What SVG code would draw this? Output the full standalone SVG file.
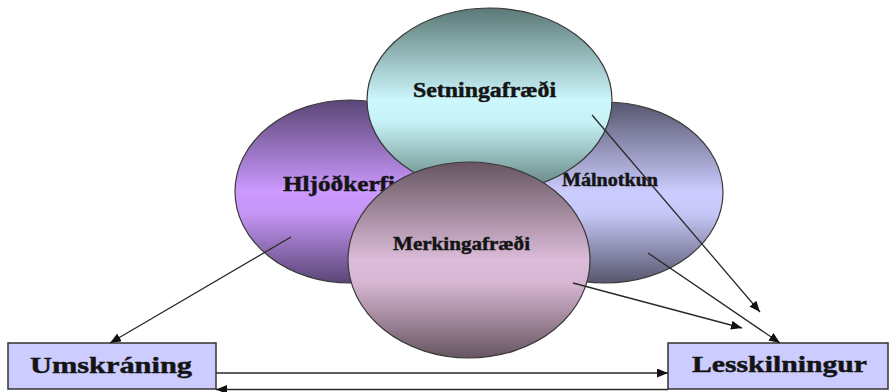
<svg xmlns="http://www.w3.org/2000/svg" width="889" height="392" viewBox="0 0 889 392">
<style>
.ell{stroke:#3a3a3a;stroke-width:1.2}
.lbl{font-family:"Liberation Serif","Times New Roman",serif;font-weight:bold;fill:#141414;stroke:#141414;stroke-width:0.45}
.box{fill:#ccccff;stroke:#333;stroke-width:1.5}
.conn{stroke:#2a2a2a;stroke-width:1.3;fill:none;marker-end:url(#ah)}
</style>
<defs>
<marker id="ah" markerUnits="userSpaceOnUse" markerWidth="12" markerHeight="9" refX="11" refY="4.5" orient="auto">
<path d="M0,0 L11,4.5 L0,9 z" fill="#111"/>
</marker>
<linearGradient id="gS" x1="0" y1="0" x2="0" y2="1">
<stop offset="0" stop-color="#5a7876"/><stop offset="0.5" stop-color="#ccf7fc"/><stop offset="0.62" stop-color="#c6f2f6"/><stop offset="1" stop-color="#5f7f7c"/>
</linearGradient>
<linearGradient id="gH" x1="0" y1="0" x2="0" y2="1">
<stop offset="0" stop-color="#5a4676"/><stop offset="0.5" stop-color="#cc99ff"/><stop offset="0.62" stop-color="#c595f5"/><stop offset="1" stop-color="#5a4676"/>
</linearGradient>
<linearGradient id="gM" x1="0" y1="0" x2="0" y2="1">
<stop offset="0" stop-color="#56566e"/><stop offset="0.5" stop-color="#ccccff"/><stop offset="0.62" stop-color="#c6c6f6"/><stop offset="1" stop-color="#56566e"/>
</linearGradient>
<linearGradient id="gK" x1="0" y1="0" x2="0" y2="1">
<stop offset="0" stop-color="#665560"/><stop offset="0.5" stop-color="#dcbcd9"/><stop offset="0.62" stop-color="#d6b6d2"/><stop offset="1" stop-color="#665560"/>
</linearGradient>
</defs>
<rect width="889" height="392" fill="#fff"/>
<g id="hljodkerfi">
<ellipse class="ell" cx="350" cy="191.5" rx="115" ry="91.5" fill="url(#gH)"/>
<text class="lbl" x="283" y="191" font-size="20" textLength="112" lengthAdjust="spacingAndGlyphs">Hljóðkerfi</text>
</g>
<g id="malnotkun">
<ellipse class="ell" cx="605" cy="192.5" rx="118" ry="90.5" fill="url(#gM)"/>
<text class="lbl" x="562" y="186" font-size="18" textLength="96" lengthAdjust="spacingAndGlyphs">Málnotkun</text>
</g>
<g id="setningafraedi">
<ellipse class="ell" cx="489.5" cy="100" rx="122.5" ry="92" fill="url(#gS)"/>
<text class="lbl" x="413" y="97" font-size="20" textLength="143" lengthAdjust="spacingAndGlyphs">Setningafræði</text>
</g>
<g id="merkingafraedi">
<ellipse class="ell" cx="469" cy="260" rx="121" ry="98" fill="url(#gK)"/>
<text class="lbl" x="393" y="250" font-size="19" textLength="137" lengthAdjust="spacingAndGlyphs">Merkingafræði</text>
</g>
<g id="umskraning">
<rect class="box" x="8" y="343" width="208" height="46"/>
<text class="lbl" x="30" y="373" font-size="24" textLength="162" lengthAdjust="spacingAndGlyphs">Umskráning</text>
</g>
<g id="lesskilningur">
<rect class="box" x="668" y="343" width="220" height="46"/>
<text class="lbl" x="692" y="372" font-size="24" textLength="175" lengthAdjust="spacingAndGlyphs">Lesskilningur</text>
</g>
<g id="connectors">
<line class="conn" x1="291" y1="237" x2="110" y2="343"/>
<line class="conn" x1="592" y1="115" x2="760" y2="312"/>
<line class="conn" x1="648" y1="253" x2="780" y2="343"/>
<line class="conn" x1="573" y1="283" x2="742" y2="328"/>
<line class="conn" x1="216" y1="373" x2="668" y2="373"/>
<line class="conn" x1="668" y1="389.5" x2="216" y2="389.5"/>
</g>
</svg>
